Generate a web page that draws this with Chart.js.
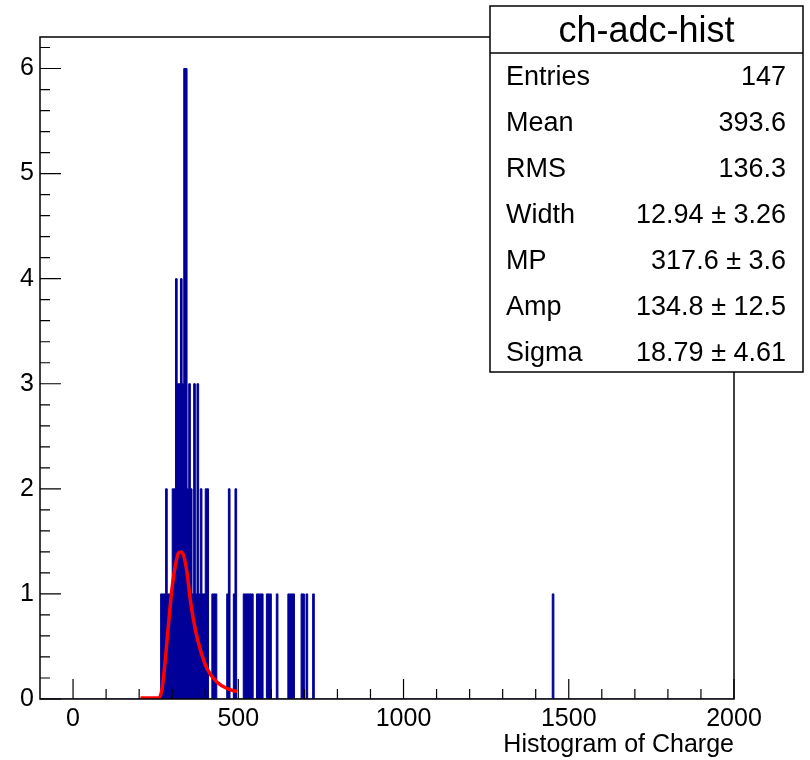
<!DOCTYPE html>
<html>
<head>
<meta charset="utf-8">
<script src="https://cdn.jsdelivr.net/npm/chart.js@4.4.1/dist/chart.umd.min.js"></script>
<style>
  html, body { margin: 0; padding: 0; background: #fff; }
  #wrap { width: 810px; height: 760px; }
</style>
</head>
<body>
<div id="wrap"><canvas id="adcChart" width="810" height="760"></canvas></div>
<script>
// histogram: low edge of every non-empty bin and its count
let binWidth = 5;
let binLow = [265, 270, 275, 280, 285, 290, 295, 300, 305, 310, 315, 320, 325, 330, 335, 340, 345, 350, 355, 360,
              365, 370, 375, 380, 385, 390, 395, 400, 405, 420, 425, 430, 465, 470, 485, 490, 515, 520, 525, 530,
              535, 540, 555, 560, 565, 570, 585, 590, 595, 615, 650, 655, 660, 665, 690, 695, 705, 725, 1450];
let binCounts = [1, 1, 1, 2, 1, 1, 1, 2, 2, 4, 3, 3, 4, 3, 6, 6, 2, 3, 2, 1,
                 3, 1, 3, 1, 2, 1, 1, 2, 2, 1, 1, 1, 1, 2, 1, 2, 1, 1, 1, 1,
                 1, 1, 1, 1, 1, 1, 1, 1, 1, 1, 1, 1, 1, 1, 1, 1, 1, 1, 1];

// fitted curve
let fitX = [204, 259, 269, 279, 289, 299, 309, 319, 327, 335, 345, 355, 370, 385, 405, 436, 466, 496];
let fitY = [0.01, 0.01, 0.09, 0.37, 0.72, 1.04, 1.26, 1.39, 1.40, 1.36, 1.20, 0.94, 0.66, 0.47, 0.29, 0.16, 0.10, 0.07];

let xTicks = [0, 500, 1000, 1500, 2000];
let yTicks = [0, 1, 2, 3, 4, 5, 6];
let xMin = -100, xMax = 2000, yMax = 6.3;

let statsTitle = "ch-adc-hist";
let statsNames = ["Entries", "Mean", "RMS", "Width", "MP", "Amp", "Sigma"];
let statsValues = ["147", "393.6", "136.3", "12.94 \u00b1 3.26", "317.6 \u00b1 3.6", "134.8 \u00b1 12.5", "18.79 \u00b1 4.61"];

const FONT = "'Liberation Sans', Arial, Helvetica, sans-serif";
const NAVY = "#000099";

// turn the bins into step points for a filled stepped line
function histPoints() {
    let pts = [{ x: xMin, y: 0 }];
    for (let i = 0; i < binLow.length; i++) {
        let hi = binLow[i] + binWidth;
        pts.push({ x: binLow[i], y: binCounts[i] });
        if (i == binLow.length - 1 || binLow[i + 1] != hi) pts.push({ x: hi, y: 0 });
    }
    pts.push({ x: xMax, y: 0 });
    return pts;
}

let fitPoints = fitX.map((x, i) => ({ x: x, y: fitY[i] }));

// frame + inward ticks like a ROOT pad
const framePlugin = {
    id: "frame",
    afterDatasetsDraw(chart) {
        let ctx = chart.ctx, a = chart.chartArea;
        let xs = chart.scales.x, ys = chart.scales.y;
        ctx.save();
        ctx.strokeStyle = "#000";
        ctx.lineWidth = 1.5;
        ctx.strokeRect(a.left, a.top, a.right - a.left, a.bottom - a.top);
        ctx.lineWidth = 1.2;
        ctx.beginPath();
        for (let v = 0; v <= xMax; v += 100) {
            let px = xs.getPixelForValue(v);
            let len = (v % 500 == 0) ? 20 : 10;
            ctx.moveTo(px, a.bottom);
            ctx.lineTo(px, a.bottom - len);
        }
        for (let k = 0; k <= 31; k++) {
            let v = k * 0.2;
            if (v > yMax) break;
            let py = ys.getPixelForValue(v);
            let len = (k % 5 == 0) ? 21 : 10;
            ctx.moveTo(a.left, py);
            ctx.lineTo(a.left + len, py);
        }
        ctx.stroke();
        ctx.restore();
    },
    afterDraw(chart) {
        let ctx = chart.ctx;
        let left = 490, right = 803, top = 6, bottom = 372, sep = 53;
        ctx.save();
        ctx.fillStyle = "#fff";
        ctx.fillRect(left, top, right - left, bottom - top);
        ctx.strokeStyle = "#000";
        ctx.lineWidth = 1.5;
        ctx.strokeRect(left, top, right - left, bottom - top);
        ctx.beginPath();
        ctx.moveTo(left, sep);
        ctx.lineTo(right, sep);
        ctx.stroke();
        ctx.fillStyle = "#000";
        ctx.textBaseline = "middle";
        ctx.textAlign = "center";
        ctx.font = "36px " + FONT;
        ctx.fillText(statsTitle, (left + right) / 2, 32);
        ctx.font = "27px " + FONT;
        for (let i = 0; i < statsNames.length; i++) {
            let y = 78 + i * 46;
            ctx.textAlign = "left";
            ctx.fillText(statsNames[i], 506, y);
            ctx.textAlign = "right";
            ctx.fillText(statsValues[i], 786, y);
        }
        ctx.restore();
    }
};

let chart = new Chart(document.getElementById("adcChart"), {
    type: "line",
    data: {
        datasets: [
            {
                data: histPoints(),
                stepped: "before",
                borderColor: NAVY,
                backgroundColor: NAVY,
                borderWidth: 1,
                fill: "origin",
                pointRadius: 0,
                order: 2
            },
            {
                data: fitPoints,
                borderColor: "#ff0000",
                borderWidth: 3.5,
                fill: false,
                pointRadius: 0,
                cubicInterpolationMode: "monotone",
                order: 1
            }
        ]
    },
    options: {
        responsive: false,
        animation: false,
        layout: { padding: { top: 37, right: 76, left: 0, bottom: 0 } },
        plugins: { legend: { display: false }, tooltip: { enabled: false } },
        scales: {
            x: {
                type: "linear",
                min: xMin,
                max: xMax,
                offset: false,
                grid: { display: false, drawTicks: false },
                border: { display: false },
                afterBuildTicks: s => { s.ticks = xTicks.map(v => ({ value: v })); },
                afterFit: s => { s.height = 61; },
                ticks: {
                    color: "#000", padding: 5, maxRotation: 0,
                    font: { family: FONT, size: 25 },
                    callback: v => String(v)
                },
                title: {
                    display: true,
                    text: "Histogram of Charge",
                    align: "end",
                    color: "#000",
                    padding: { top: 0, bottom: 0 },
                    font: { family: FONT, size: 25 }
                }
            },
            y: {
                type: "linear",
                min: 0,
                max: yMax,
                grid: { display: false, drawTicks: false },
                border: { display: false },
                afterBuildTicks: s => { s.ticks = yTicks.map(v => ({ value: v })); },
                afterFit: s => { s.width = 40; },
                ticks: { color: "#000", padding: 6, font: { family: FONT, size: 25 }, callback: v => String(v) }
            }
        }
    },
    plugins: [framePlugin]
});
</script>
</body>
</html>
